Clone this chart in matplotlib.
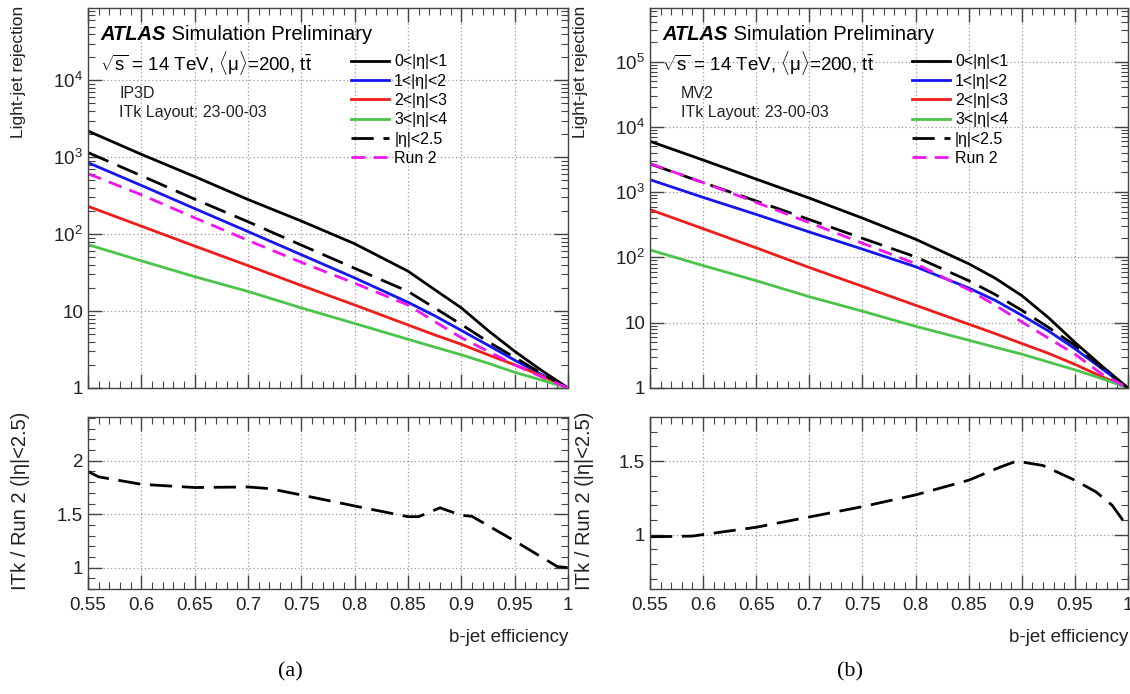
import numpy as np
import matplotlib
matplotlib.use('Agg')
import matplotlib.pyplot as plt
from matplotlib.ticker import FixedLocator, MultipleLocator, LogLocator, NullFormatter, FuncFormatter

plt.rcParams['font.family'] = ['Liberation Sans', 'DejaVu Sans']
plt.rcParams['mathtext.fontset'] = 'custom'
plt.rcParams['mathtext.rm'] = 'Liberation Sans'
plt.rcParams['mathtext.it'] = 'Liberation Sans:italic'
plt.rcParams['mathtext.bf'] = 'Liberation Sans:bold'

# b-jet efficiency punktlari
eff = [0.55, 0.6, 0.65, 0.7, 0.75, 0.8, 0.85, 0.875, 0.9, 0.925, 0.95, 0.975, 1.0]

# (a) IP3D
ip3d_eta01 = [2190, 1090, 560, 282, 148, 75, 33, 19, 11, 5.6, 3.0, 1.7, 1]
ip3d_eta12 = [850, 430, 215, 108, 54, 27, 13, 8.7, 5.6, 3.6, 2.3, 1.5, 1]
ip3d_eta23 = [230, 127, 70, 39, 21.5, 12, 6.6, 4.9, 3.7, 2.7, 2.0, 1.45, 1]
ip3d_eta34 = [73, 45, 28, 18, 11, 6.9, 4.3, 3.4, 2.7, 2.1, 1.6, 1.27, 1]
ip3d_eta25 = [1150, 575, 285, 145, 72, 36, 18, 11, 6.7, 4.0, 2.5, 1.55, 1]
ip3d_run2 = [610, 325, 163, 83, 43, 23, 12, 7.3, 4.5, 3.0, 2.0, 1.4, 1]

# (b) MV2
mv2_eta01 = [6000, 3100, 1580, 810, 400, 190, 80, 48, 26, 12, 5.0, 2.2, 1]
mv2_eta12 = [1550, 830, 455, 245, 134, 72, 34, 22, 13, 7.5, 4.0, 2.0, 1]
mv2_eta23 = [540, 275, 140, 70, 36, 18.5, 9.5, 6.8, 4.8, 3.4, 2.3, 1.5, 1]
mv2_eta34 = [130, 75, 44, 25, 15, 8.8, 5.4, 4.2, 3.3, 2.5, 1.9, 1.4, 1]
mv2_eta25 = [2700, 1400, 730, 380, 196, 102, 44, 27, 15.5, 8.5, 4.5, 2.1, 1]
mv2_run2 = [2740, 1400, 695, 340, 165, 80, 32, 18.5, 10.3, 5.8, 3.3, 1.65, 1]

# ITk / Run 2 nisbati
ratio_eff_a = [0.55, 0.56, 0.6, 0.65, 0.7, 0.72, 0.75, 0.8, 0.85, 0.86, 0.88, 0.9, 0.91, 0.95, 0.99, 1.0]
ratio_a = [1.90, 1.85, 1.78, 1.75, 1.755, 1.74, 1.68, 1.577, 1.477, 1.477, 1.56, 1.49, 1.48, 1.25, 1.01, 1.0]
ratio_eff_b = [0.55, 0.59, 0.6, 0.65, 0.7, 0.75, 0.8, 0.85, 0.88, 0.895, 0.92, 0.95, 0.97, 0.985, 0.995, 1.0]
ratio_b = [0.985, 0.99, 1.0, 1.05, 1.12, 1.19, 1.27, 1.37, 1.46, 1.5, 1.47, 1.37, 1.29, 1.2, 1.1, 1.05]

W, H = 1130, 694
fig = plt.figure(figsize=(W / 100, H / 100), dpi=100)

frame_col = '#444444'
txt_col = '#222222'


def px(x0, y0, x1, y1):
    return [x0 / W, 1 - y1 / H, (x1 - x0) / W, (y1 - y0) / H]


def style(ax):
    for s in ax.spines.values():
        s.set_color(frame_col)
        s.set_linewidth(1.0)
    ax.tick_params(which='both', direction='in', top=True, right=True,
                   colors=frame_col, labelcolor=txt_col, labelsize=13.5)
    ax.tick_params(which='major', length=10, width=1.0)
    ax.tick_params(which='minor', length=5, width=0.8)
    ax.grid(True, which='major', color='#9a9a9a', linestyle=(0, (1, 2)), linewidth=0.9)
    ax.set_xlim(0.55, 1.0)
    ax.xaxis.set_major_locator(MultipleLocator(0.05))
    ax.xaxis.set_minor_locator(MultipleLocator(0.01))


def log_fmt(v, pos):
    if v == 1:
        return '1'
    if v == 10:
        return '10'
    return r'$10^{%d}$' % round(np.log10(v))


def top_panel(rect, series, ymax, tagger, ypix_label):
    ax = fig.add_axes(rect)
    style(ax)
    ax.set_yscale('log')
    ax.set_ylim(1, ymax)
    ax.yaxis.set_major_locator(LogLocator(base=10, numticks=10))
    ax.yaxis.set_minor_locator(LogLocator(base=10, subs=np.arange(2, 10), numticks=20))
    ax.yaxis.set_major_formatter(FuncFormatter(log_fmt))
    ax.yaxis.set_minor_formatter(NullFormatter())
    ax.set_xticklabels([])
    e01, e12, e23, e34, e25, r2 = series
    ax.plot(eff, e01, color='black', lw=2, label='0<|η|<1')
    ax.plot(eff, e12, color='#1515f0', lw=2, label='1<|η|<2')
    ax.plot(eff, e23, color='#f01c1c', lw=2, label='2<|η|<3')
    ax.plot(eff, e34, color='#4cc44c', lw=2, label='3<|η|<4')
    ax.plot(eff, e25, color='black', lw=2, dashes=(8, 3.5), label='|η|<2.5')
    ax.plot(eff, r2, color='#f015f0', lw=2, dashes=(5, 3), label='Run 2')
    atl = ax.text(0.026, 0.929, 'ATLAS', transform=ax.transAxes, fontsize=14.5,
                  fontweight='bold', style='italic', va='center', ha='left')
    ax.annotate(' Simulation Preliminary', xy=(1, 0.5), xycoords=atl,
                fontsize=14.5, va='center', ha='left')
    ax.text(0.026, 0.855,
            r'$\sqrt{\mathrm{s}}$ = 14 TeV, $\langle\mathrm{\mu}\rangle$=200, $\mathrm{t\bar{t}}$',
            transform=ax.transAxes, fontsize=13.5, va='center', ha='left')
    ax.text(0.065, 0.774, tagger, transform=ax.transAxes, fontsize=11.5,
            va='center', ha='left', color=txt_col)
    ax.text(0.065, 0.724, 'ITk Layout: 23-00-03', transform=ax.transAxes, fontsize=11.5,
            va='center', ha='left', color=txt_col)
    ax.legend(loc='upper left', bbox_to_anchor=(0.548, 0.878), frameon=False,
              fontsize=11.5, handlelength=2.4, handletextpad=0.3,
              labelspacing=0.27, borderpad=0, borderaxespad=0)
    fig.text(ypix_label / W, 1 - 6 / H, 'Light-jet rejection', rotation=90,
             ha='center', va='top', fontsize=12.5, color=txt_col)
    return ax


def ratio_panel(rect, x, y, ylim, ypix_label, xr):
    ax = fig.add_axes(rect)
    style(ax)
    ax.plot(x, y, color='black', lw=2, dashes=(8, 3.5))
    ax.set_ylim(*ylim)
    ax.yaxis.set_major_locator(FixedLocator([1, 1.5, 2]))
    ax.yaxis.set_minor_locator(MultipleLocator(0.1))
    ax.yaxis.set_major_formatter(FuncFormatter(lambda v, p: '%g' % v))
    ax.xaxis.set_major_formatter(FuncFormatter(lambda v, p: '%g' % round(v, 2)))
    ax.tick_params(axis='x', pad=6)
    fig.text(ypix_label / W, 1 - 412 / H, 'ITk / Run 2 (|η|<2.5)', rotation=90,
             ha='center', va='top', fontsize=14.5, color=txt_col)
    fig.text(xr / W, 1 - 637 / H, 'b-jet efficiency', ha='right', va='center',
             fontsize=13.5, color=txt_col)
    return ax


top_panel(px(88, 8, 568, 388),
          (ip3d_eta01, ip3d_eta12, ip3d_eta23, ip3d_eta34, ip3d_eta25, ip3d_run2),
          8.7e4, 'IP3D', 19)
ratio_panel(px(88, 417, 568, 589), ratio_eff_a, ratio_a, (0.8, 2.41), 21, 568)

top_panel(px(650, 8, 1128, 388),
          (mv2_eta01, mv2_eta12, mv2_eta23, mv2_eta34, mv2_eta25, mv2_run2),
          6.6e5, 'MV2', 580)
ratio_panel(px(650, 417, 1128, 589), ratio_eff_b, ratio_b, (0.63, 1.8), 584, 1128)

fig.text(290 / W, 1 - 672 / H, '(a)', ha='center', va='center', fontsize=16,
         family='Liberation Serif')
fig.text(850 / W, 1 - 672 / H, '(b)', ha='center', va='center', fontsize=16,
         family='Liberation Serif')

fig.savefig('out.png', dpi=100)
